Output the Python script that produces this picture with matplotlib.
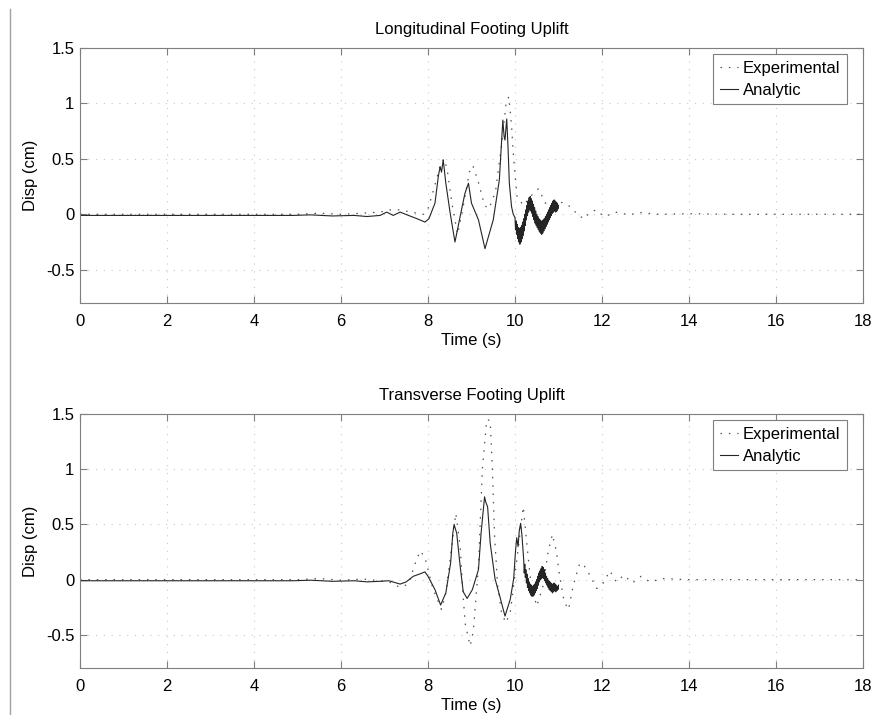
import matplotlib
matplotlib.use("Agg")
from matplotlib import pyplot as plt
from matplotlib.lines import Line2D
from matplotlib.ticker import FuncFormatter

plt.rcParams['font.family'] = ['Liberation Sans', 'DejaVu Sans']

# ---- Longitudinal footing uplift ----
long_exp_t = [0.0, 5.0, 5.5, 6.0, 6.5, 6.9, 7.1, 7.36, 7.6, 7.9, 8.0, 8.15, 8.3, 8.38, 8.45,
              8.55, 8.68, 8.8, 8.95, 9.03, 9.15, 9.3, 9.4, 9.55, 9.7, 9.8, 9.86, 9.92, 9.97,
              10.05, 10.2, 10.35, 10.54, 10.7, 10.9, 11.15, 11.3, 11.45, 11.6, 11.7, 11.86,
              12.05, 12.35, 12.6, 12.9, 13.3, 14.0, 15.0, 16.0, 18.0]
long_exp_v = [0.0, 0.0, 0.01, 0.0, 0.01, 0.02, 0.04, 0.04, 0.02, 0.0, 0.05, 0.25, 0.47, 0.50,
              0.38, 0.10, -0.18, 0.05, 0.38, 0.44, 0.30, 0.08, 0.05, 0.20, 0.65, 1.02, 1.06,
              0.80, 0.49, 0.15, 0.08, 0.16, 0.23, 0.10, 0.12, 0.10, 0.06, -0.01, -0.04, 0.01,
              0.04, -0.02, 0.02, -0.005, 0.015, 0.0, 0.005, 0.0, 0.0, 0.0]

long_ana_t = [0.0, 4.9, 5.3, 5.8, 6.3, 6.6, 6.9, 7.05, 7.2, 7.36, 7.55, 7.75, 7.93, 8.02, 8.16,
              8.24, 8.28, 8.31, 8.35, 8.41, 8.51, 8.62, 8.77, 8.85, 8.93, 9.0, 9.16, 9.31,
              9.5, 9.64, 9.72, 9.75, 9.77, 9.81, 9.84, 9.87, 9.92, 9.96,
              10.0, 10.0125, 10.025, 10.0375, 10.05, 10.0625, 10.075, 10.0875, 10.1, 10.1125,
              10.125, 10.1375, 10.15, 10.1625, 10.175, 10.1875, 10.2, 10.2125, 10.225, 10.2375,
              10.25, 10.2625, 10.275, 10.2875, 10.3, 10.3125, 10.325, 10.3375, 10.35, 10.3625,
              10.375, 10.3875, 10.4, 10.4125, 10.425, 10.4375, 10.45, 10.4625, 10.475, 10.4875,
              10.5, 10.5125, 10.525, 10.5375, 10.55, 10.5625, 10.575, 10.5875, 10.6, 10.6125,
              10.625, 10.6375, 10.65, 10.6625, 10.675, 10.6875, 10.7, 10.7125, 10.725, 10.7375,
              10.75, 10.7625, 10.775, 10.7875, 10.8, 10.8125, 10.825, 10.8375, 10.85, 10.8625,
              10.875, 10.8875, 10.9, 10.9125, 10.925, 10.9375, 10.95, 10.9625, 10.975, 10.9875,
              11.0]
long_ana_v = [-0.01, -0.01, -0.005, -0.015, -0.01, -0.02, -0.01, 0.02, -0.01, 0.02, -0.01,
              -0.04, -0.07, -0.04, 0.10, 0.35, 0.43, 0.38, 0.49, 0.28, 0.01, -0.25, 0.04,
              0.19, 0.28, 0.10, -0.05, -0.31, -0.05, 0.31, 0.85, 0.70, 0.67, 0.86, 0.60,
              0.28, 0.07, 0.0,
              -0.03, -0.14, -0.06, -0.18, -0.09, -0.22, -0.12, -0.25, -0.13, -0.27, -0.12,
              -0.25, -0.10, -0.22, -0.07, -0.19, -0.04, -0.15, 0.00, -0.10, 0.04, -0.05,
              0.08, -0.01, 0.12, 0.02, 0.15, 0.04, 0.16, 0.03, 0.14, 0.01, 0.12, -0.02,
              0.09, -0.05, 0.06, -0.08, 0.03, -0.10, 0.00, -0.12, -0.02, -0.14, -0.04, -0.16,
              -0.05, -0.17, -0.06, -0.18, -0.06, -0.17, -0.05, -0.15, -0.04, -0.13, -0.02,
              -0.11, 0.00, -0.09, 0.02, -0.07, 0.04, -0.05, 0.06, -0.03, 0.08, -0.01, 0.10,
              0.01, 0.12, 0.02, 0.13, 0.03, 0.12, 0.02, 0.11, 0.03, 0.10, 0.05,
              0.08]

# ---- Transverse footing uplift ----
trans_exp_t = [0.0, 5.0, 5.5, 6.0, 6.5, 6.9, 7.1, 7.36, 7.55, 7.7, 7.82, 7.93, 8.0, 8.12, 8.31,
               8.41, 8.53, 8.64, 8.74, 8.81, 8.86, 8.97, 9.04, 9.16, 9.25, 9.35, 9.43, 9.48,
               9.53, 9.6, 9.69, 9.79, 9.89, 9.97, 10.11, 10.19, 10.26, 10.37, 10.5, 10.65,
               10.76, 10.86, 10.95, 11.02, 11.13, 11.23, 11.34, 11.49, 11.6, 11.72, 11.88,
               12.03, 12.18, 12.33, 12.5, 12.7, 12.9, 13.1, 13.4, 14.0, 15.0, 16.0, 18.0]
trans_exp_v = [0.0, 0.0, 0.01, -0.005, 0.005, -0.01, -0.02, -0.07, -0.04, 0.14, 0.26, 0.20,
               0.09, -0.09, -0.27, -0.12, 0.25, 0.60, 0.30, -0.17, -0.41, -0.60, -0.47, 0.12,
               1.00, 1.45, 1.44, 1.00, 0.40, -0.05, -0.30, -0.39, -0.30, -0.05, 0.40, 0.66,
               0.37, -0.05, -0.24, -0.05, 0.25, 0.41, 0.26, 0.05, -0.20, -0.27, -0.05, 0.15,
               0.12, 0.04, -0.08, -0.03, 0.08, -0.02, 0.04, -0.03, 0.03, -0.02, 0.01, 0.0,
               0.0, 0.0, 0.0]

trans_ana_t = [0.0, 4.9, 5.3, 5.8, 6.3, 6.6, 6.9, 7.1, 7.36, 7.5, 7.66, 7.8, 7.93, 8.0, 8.16,
               8.29, 8.41, 8.52, 8.57, 8.60, 8.66, 8.74, 8.81, 8.90, 9.02, 9.16, 9.22, 9.30,
               9.33, 9.37, 9.43, 9.54, 9.67, 9.77, 9.89, 9.97, 10.01, 10.04, 10.07, 10.1,
               10.13, 10.16, 10.2,
               10.2125, 10.225, 10.2375, 10.25, 10.2625, 10.275, 10.2875, 10.3, 10.3125, 10.325,
               10.3375, 10.35, 10.3625, 10.375, 10.3875, 10.4, 10.4125, 10.425, 10.4375, 10.45,
               10.4625, 10.475, 10.4875, 10.5, 10.5125, 10.525, 10.5375, 10.55, 10.5625, 10.575,
               10.5875, 10.6, 10.6125, 10.625, 10.6375, 10.65, 10.6625, 10.675, 10.6875, 10.7,
               10.7125, 10.725, 10.7375, 10.75, 10.7625, 10.775, 10.7875, 10.8, 10.8125, 10.825,
               10.8375, 10.85, 10.8625, 10.875, 10.8875, 10.9, 10.9125, 10.925, 10.9375, 10.95,
               10.9625, 10.975, 10.9875, 11.0]
trans_ana_v = [-0.01, -0.01, -0.005, -0.015, -0.01, -0.02, -0.015, -0.01, -0.04, -0.02,
               0.03, 0.05, 0.07, 0.03, -0.09, -0.23, -0.12, 0.15, 0.42, 0.50, 0.42, 0.12,
               -0.11, -0.17, -0.09, 0.09, 0.42, 0.75, 0.70, 0.66, 0.33, 0.01, -0.18, -0.33,
               -0.18, 0.01, 0.25, 0.38, 0.30, 0.45, 0.51, 0.40, 0.18,
               0.06, 0.14, 0.02, 0.09, -0.03, 0.05, -0.07, 0.01, -0.10, -0.02, -0.12, -0.04,
               -0.14, -0.05, -0.15, -0.06, -0.15, -0.05, -0.14, -0.04, -0.12, -0.02, -0.10,
               0.00, -0.08, 0.03, -0.05, 0.06, -0.02, 0.08, 0.00, 0.10, 0.01, 0.12, 0.02, 0.11,
               0.01, 0.09, -0.01, 0.06, -0.03, 0.03, -0.05, 0.01, -0.07, -0.01, -0.09, -0.02,
               -0.10, -0.03, -0.11, -0.04, -0.12, -0.04, -0.11, -0.03, -0.10, -0.04, -0.11,
               -0.05, -0.10, -0.06, -0.09, -0.05]

titles = ['Longitudinal Footing Uplift', 'Transverse Footing Uplift']
x_ticks = [0, 2, 4, 6, 8, 10, 12, 14, 16, 18]
y_ticks = [-0.5, 0, 0.5, 1, 1.5]

W, H = 875, 715
fig = plt.figure(figsize=(W / 100, H / 100), dpi=100)
frame_col = '#7f7f7f'

boxes = [(80, 48, 863, 303), (80, 414, 863, 668)]
series = [(long_exp_t, long_exp_v, long_ana_t, long_ana_v),
          (trans_exp_t, trans_exp_v, trans_ana_t, trans_ana_v)]

for (x0, y0, x1, y1), (et, ev, at, av), title in zip(boxes, series, titles):
    ax = fig.add_axes([x0 / W, 1 - y1 / H, (x1 - x0) / W, (y1 - y0) / H])
    ax.plot(et, ev, color='#505050', lw=0.9, linestyle=(0, (1.2, 5.5)), label='Experimental')
    ax.plot(at, av, color='#252525', lw=0.8, label='Analytic')
    ax.set_xlim(0, 18)
    ax.set_ylim(-0.8, 1.5)
    ax.set_xticks(x_ticks)
    ax.set_yticks(y_ticks)
    ax.yaxis.set_major_formatter(FuncFormatter(lambda v, p: '%g' % v))
    ax.tick_params(direction='in', length=5, width=0.8, color=frame_col,
                   top=True, right=True, labelsize=12)
    ax.tick_params(axis='x', pad=8)
    ax.tick_params(axis='y', pad=4)
    for s in ax.spines.values():
        s.set_color(frame_col)
        s.set_linewidth(0.8)
    ax.grid(True, color='#c8c8c8', linestyle=(0, (1, 6)), lw=0.8)
    ax.set_axisbelow(True)
    ax.set_title(title, fontsize=12, pad=10)
    ax.set_xlabel('Time (s)', fontsize=12, labelpad=3)
    ax.set_ylabel('Disp (cm)', fontsize=12, labelpad=6)
    leg = ax.legend(loc='upper right', bbox_to_anchor=(0.9796, 0.9765), borderaxespad=0,
                    fontsize=12, fancybox=False, framealpha=1, edgecolor=frame_col,
                    handlelength=1.1, handletextpad=0.3, labelspacing=0.42,
                    borderpad=0.4)
    leg.get_frame().set_linewidth(0.8)

fig.add_artist(Line2D([9.5 / W, 9.5 / W], [0, 1 - 9 / H], transform=fig.transFigure,
                      color='#a0a0a0', lw=1))

fig.savefig('out.png', dpi=100, facecolor='white')
